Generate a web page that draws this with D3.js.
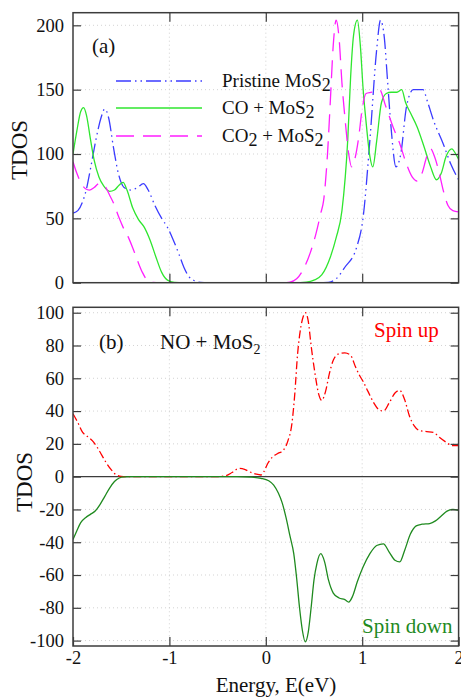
<!DOCTYPE html>
<html>
<head>
<meta charset="utf-8">
<script src="https://cdn.jsdelivr.net/npm/d3@7"></script>
<style>
  body { margin: 0; background: #fff; }
  svg, svg text { font-family: "Liberation Serif", "Times New Roman", Times, "DejaVu Serif", serif; }
</style>
</head>
<body>
<div id="chart"></div>
<script>
// ---- data ----
// panel (a): TDOS of pristine / CO / CO2 adsorbed MoS2
var pristineE = [-2, -1.95, -1.9, -1.86, -1.82, -1.76, -1.71, -1.67, -1.63, -1.58, -1.53, -1.47, -1.4, -1.33, -1.27, -1.22, -1.15, -1.08, -1.02, -0.97, -0.9, -0.85, -0.8, -0.74, -0.68, -0.6, 0, 0.55, 0.65, 0.73, 0.82, 0.94, 1.01, 1.08, 1.15, 1.19, 1.23, 1.26, 1.3, 1.35, 1.4, 1.46, 1.53, 1.58, 1.63, 1.68, 1.74, 1.84, 1.92, 2];
var pristineY = [54, 56, 63, 73, 88, 112, 128, 135, 128, 105, 85, 74, 72, 74, 77, 72, 60, 50, 43, 35, 22, 12, 5, 1.5, 0.3, 0, 0, 0, 0.3, 3, 12, 27, 51, 111, 181, 204, 190, 160, 120, 90, 100, 137, 150, 150, 150, 140, 126, 108, 92, 80];

var coE = [-2, -1.96, -1.92, -1.89, -1.86, -1.82, -1.78, -1.73, -1.68, -1.62, -1.57, -1.52, -1.48, -1.44, -1.38, -1.32, -1.26, -1.2, -1.14, -1.08, -1.02, -0.95, -0.85, 0.3, 0.42, 0.5, 0.58, 0.67, 0.73, 0.79, 0.85, 0.88, 0.91, 0.95, 0.98, 1.01, 1.04, 1.08, 1.11, 1.15, 1.2, 1.25, 1.3, 1.36, 1.41, 1.45, 1.5, 1.57, 1.64, 1.71, 1.77, 1.82, 1.87, 1.93, 1.97, 2];
var coY = [100, 118, 133, 136, 130, 112, 95, 82, 75, 71, 72, 76, 78, 72, 58, 49, 43, 33, 20, 8, 2, 0.3, 0, 0, 0.5, 2, 6, 20, 35, 56, 111, 160, 192, 204, 185, 150, 125, 98, 90, 110, 140, 147, 148, 148, 150, 140, 132, 121, 106, 90, 80, 85, 98, 104, 100, 96];

var co2E = [-2, -1.96, -1.92, -1.87, -1.83, -1.78, -1.73, -1.7, -1.66, -1.62, -1.58, -1.52, -1.48, -1.43, -1.38, -1.33, -1.28, -1.23, -1.18, -1.1, 0.15, 0.25, 0.32, 0.4, 0.46, 0.52, 0.57, 0.6, 0.64, 0.67, 0.7, 0.73, 0.76, 0.79, 0.82, 0.86, 0.89, 0.92, 0.96, 1, 1.04, 1.1, 1.18, 1.24, 1.32, 1.39, 1.46, 1.52, 1.57, 1.62, 1.67, 1.71, 1.75, 1.8, 1.84, 1.89, 1.94, 2];
var co2Y = [94, 85, 78, 73, 72, 74, 77, 77, 74, 68, 62, 50, 43, 36, 27, 17, 8, 2, 0.3, 0, 0, 0.5, 3, 12, 23, 38, 54, 64, 100, 142, 185, 204, 190, 155, 129, 100, 90, 95, 111, 135, 147, 148, 150, 138, 121, 108, 92, 82, 79, 85, 98, 104, 98, 85, 72, 60, 56, 55];

// panel (b): NO + MoS2, spin resolved
var upE = [-2, -1.95, -1.9, -1.86, -1.8, -1.75, -1.7, -1.65, -1.6, -1.55, -1.5, -1.4, -0.5, -0.42, -0.35, -0.28, -0.22, -0.17, -0.1, -0.05, -0.02, 0.02, 0.07, 0.12, 0.18, 0.23, 0.27, 0.3, 0.33, 0.36, 0.39, 0.41, 0.44, 0.47, 0.51, 0.55, 0.58, 0.62, 0.66, 0.7, 0.76, 0.82, 0.88, 0.93, 0.97, 1.01, 1.06, 1.12, 1.17, 1.22, 1.28, 1.34, 1.39, 1.44, 1.49, 1.54, 1.6, 1.67, 1.74, 1.8, 1.87, 1.93, 2];
var upY = [38.4, 33, 27, 25, 22, 18, 13, 8, 4, 1, 0.2, 0, 0, 0.5, 2.5, 5, 4.5, 3, 1.5, 1, 3, 8, 12, 14, 16, 22, 32, 50, 75, 90, 98, 100, 95, 80, 63, 50, 46.5, 52, 63, 71, 75, 75.5, 74, 67, 62, 58, 52, 45, 41, 40, 45, 51, 52.6, 47, 37, 31, 28, 27.5, 27, 24, 21, 19, 19];

var downE = [-2, -1.96, -1.92, -1.87, -1.82, -1.77, -1.72, -1.67, -1.62, -1.57, -1.52, -1.47, -1.4, -0.3, -0.15, -0.05, 0.03, 0.08, 0.13, 0.17, 0.21, 0.25, 0.29, 0.32, 0.35, 0.38, 0.41, 0.44, 0.47, 0.5, 0.53, 0.57, 0.61, 0.65, 0.7, 0.76, 0.82, 0.86, 0.9, 0.95, 1.01, 1.08, 1.15, 1.22, 1.28, 1.34, 1.39, 1.44, 1.5, 1.56, 1.62, 1.7, 1.76, 1.82, 1.88, 1.94, 2];
var downY = [-38.4, -33, -28, -25, -23, -21, -17, -12, -7, -3, -0.8, -0.1, 0, 0, -0.3, -1, -2.5, -5, -10, -16, -25, -36, -47, -62, -80, -94, -100.8, -95, -80, -63, -53, -47, -52, -63, -71, -74, -75, -76.5, -73, -64, -55, -47, -42, -41, -46, -51, -52, -45, -35, -30, -29, -28.6, -27, -24, -21, -20, -20.5];

var xTicks = [-2, -1, 0, 1, 2];
var yTicksA = [0, 50, 100, 150, 200];
var yTicksB = [-100, -80, -60, -40, -20, 0, 20, 40, 60, 80, 100];

// ---- layout ----
var width = 461, height = 697;
var left = 73, right = 458.6;
var topA = 12.7, bottomA = 282.7;
var topB = 307.3, bottomB = 646;
var serif = "'Liberation Serif', 'Times New Roman', Times, 'DejaVu Serif', serif";

var svg = d3.select("#chart").append("svg")
  .attr("width", width)
  .attr("height", height);

var x = d3.scaleLinear().domain([-2, 2]).range([left, right]);
var yA = d3.scaleLinear().domain([0, 209.8]).range([bottomA, topA]);
var yB = d3.scaleLinear().domain([-103.3, 103.3]).range([bottomB, topB]);

var frameColor = "#3c3c3c";
var fmt = function(d) { return String(d); };

// clip paths so the curves stay in the boxes
var defs = svg.append("defs");
defs.append("clipPath").attr("id", "clipA").append("rect")
  .attr("x", left).attr("y", topA).attr("width", right - left).attr("height", bottomA - topA);
defs.append("clipPath").attr("id", "clipB").append("rect")
  .attr("x", left).attr("y", topB).attr("width", right - left).attr("height", bottomB - topB);

function drawGrid(y, yTicks, top, bottom) {
  var g = svg.append("g");
  g.selectAll(".hgrid").data(yTicks.filter(function(d) { return d !== 0; }))
    .enter().append("line")
    .attr("x1", left).attr("x2", right)
    .attr("y1", function(d) { return y(d); })
    .attr("y2", function(d) { return y(d); })
    .attr("stroke", "#c8c8c8").attr("stroke-width", 0.8)
    .attr("stroke-dasharray", "1,3");
  g.selectAll(".vgrid").data([-1, 0, 1])
    .enter().append("line")
    .attr("x1", function(d) { return x(d); })
    .attr("x2", function(d) { return x(d); })
    .attr("y1", top).attr("y2", bottom)
    .attr("stroke", "#c8c8c8").attr("stroke-width", 0.8)
    .attr("stroke-dasharray", "1,3");
}

function drawAxes(y, yTicks, top, bottom, showX) {
  // left axis with labels
  var gl = svg.append("g").attr("transform", "translate(" + left + ",0)")
    .call(d3.axisLeft(y).tickValues(yTicks).tickSize(-8).tickPadding(9).tickFormat(fmt));
  // right axis, ticks only
  var gr = svg.append("g").attr("transform", "translate(" + right + ",0)")
    .call(d3.axisRight(y).tickValues(yTicks).tickSize(-8).tickFormat(""));
  // top axis, ticks only
  var gt = svg.append("g").attr("transform", "translate(0," + top + ")")
    .call(d3.axisTop(x).tickValues(xTicks.slice(1, 4)).tickSize(-9).tickFormat(""));
  // bottom axis
  var gb = svg.append("g").attr("transform", "translate(0," + bottom + ")")
    .call(d3.axisBottom(x).tickValues(showX ? xTicks : xTicks.slice(1, 4))
      .tickSize(-9).tickPadding(5).tickFormat(showX ? fmt : ""));

  [gl, gr, gt, gb].forEach(function(g) {
    g.attr("font-family", serif);
    g.select(".domain").remove();
    g.selectAll(".tick line").attr("stroke", frameColor).attr("stroke-width", 1.2);
    g.selectAll("text")
      .attr("fill", "#111")
      .attr("font-family", serif)
      .attr("font-size", 18.5);
  });

  svg.append("rect")
    .attr("x", left).attr("y", top)
    .attr("width", right - left).attr("height", bottom - top)
    .attr("fill", "none")
    .attr("stroke", frameColor)
    .attr("stroke-width", 1.5);
}

function drawCurve(xs, ys, y, clip, color, dash) {
  var pts = xs.map(function(e, i) { return [e, ys[i]]; });
  var line = d3.line()
    .x(function(d) { return x(d[0]); })
    .y(function(d) { return y(d[1]); })
    .curve(d3.curveMonotoneX);
  svg.append("path")
    .datum(pts)
    .attr("clip-path", "url(#" + clip + ")")
    .attr("d", line)
    .attr("fill", "none")
    .attr("stroke", color)
    .attr("stroke-width", 1.3)
    .attr("stroke-dasharray", dash);
}

function addText(xp, yp, size, str, color) {
  return svg.append("text")
    .attr("x", xp).attr("y", yp)
    .attr("font-family", serif)
    .attr("font-size", size)
    .attr("fill", color || "#111")
    .text(str);
}

var blue = "#3b3bff", lime = "#2fe62f", magenta = "#ff1eff";
var red = "#ff0000", forest = "#1f8a1f";
var dashPristine = "15,4,1.5,4,1.5,4";
var dashCO2 = "18,9";
var dashUp = "8,3,1.5,3";

// ---- panel (a) ----
drawGrid(yA, yTicksA, topA, bottomA);
drawCurve(pristineE, pristineY, yA, "clipA", blue, dashPristine);
drawCurve(coE, coY, yA, "clipA", lime, null);
drawCurve(co2E, co2Y, yA, "clipA", magenta, dashCO2);
drawAxes(yA, yTicksA, topA, bottomA, false);

addText(92, 53, 21, "(a)");

// legend
var legendItems = [
  { parts: [["Pristine MoS", 0], ["2", 1]], color: blue, dash: dashPristine, y: 81 },
  { parts: [["CO + MoS", 0], ["2", 1]], color: lime, dash: null, y: 108 },
  { parts: [["CO", 0], ["2", 1], [" + MoS", 0], ["2", 1]], color: magenta, dash: dashCO2, y: 136 }
];
legendItems.forEach(function(d) {
  svg.append("line")
    .attr("x1", 116).attr("x2", 202)
    .attr("y1", d.y).attr("y2", d.y)
    .attr("stroke", d.color)
    .attr("stroke-width", 1.3)
    .attr("stroke-dasharray", d.dash);
  var t = addText(222, d.y + 6, 19, null);
  var low = 0;
  d.parts.forEach(function(p) {
    var shift = p[1] ? 4 - low : -low;
    low = p[1] ? 4 : 0;
    t.append("tspan")
      .attr("dy", shift)
      .attr("font-size", p[1] ? 18 : 19)
      .text(p[0]);
  });
});

svg.append("text")
  .attr("transform", "translate(27,150) rotate(-90)")
  .attr("text-anchor", "middle")
  .attr("font-family", serif)
  .attr("font-size", 23)
  .attr("fill", "#111")
  .text("TDOS");

// ---- panel (b) ----
drawGrid(yB, yTicksB, topB, bottomB);
svg.append("line")
  .attr("x1", left).attr("x2", right)
  .attr("y1", yB(0)).attr("y2", yB(0))
  .attr("stroke", frameColor).attr("stroke-width", 1.3);
drawCurve(upE, upY, yB, "clipB", red, dashUp);
drawCurve(downE, downY, yB, "clipB", forest, null);
drawAxes(yB, yTicksB, topB, bottomB, true);

addText(99, 349, 21, "(b)");

var noText = addText(160, 349, 21, null);
noText.append("tspan").text("NO + MoS");
noText.append("tspan").attr("dy", 5).attr("font-size", 14).text("2");

addText(374, 337, 21, "Spin up", red);
addText(362, 633, 21, "Spin down", forest);

svg.append("text")
  .attr("transform", "translate(32,482) rotate(-90)")
  .attr("text-anchor", "middle")
  .attr("font-family", serif)
  .attr("font-size", 23)
  .attr("fill", "#111")
  .text("TDOS");

svg.append("text")
  .attr("x", 276).attr("y", 692)
  .attr("text-anchor", "middle")
  .attr("font-family", serif)
  .attr("font-size", 21)
  .attr("fill", "#111")
  .text("Energy, E(eV)");
</script>
</body>
</html>
